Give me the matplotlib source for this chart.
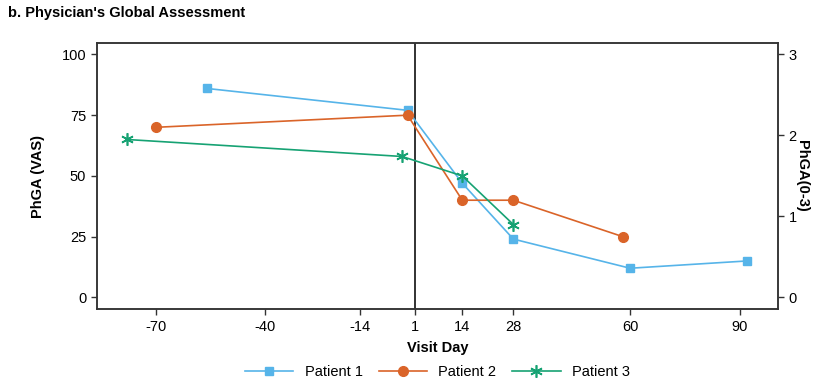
import matplotlib
matplotlib.use("Agg")
import matplotlib.pyplot as plt

plt.rcParams['font.family'] = ['Liberation Sans', 'DejaVu Sans']
plt.rcParams['font.size'] = 10.5
plt.rcParams['axes.unicode_minus'] = False

# data
p1_day = [-56, -1, 14, 28, 60, 92]
p1_vas = [86, 77, 47, 24, 12, 15]
p2_day = [-70, -1, 14, 28, 58]
p2_vas = [70, 75, 40, 40, 25]
p3_day = [-78, -2.5, 14, 28]
p3_vas = [65, 58, 50, 30]

xticks = [-70, -40, -14, 1, 14, 28, 60, 90]
yticks_left = [0, 25, 50, 75, 100]
yticks_right = [0, 1, 2, 3]

fig = plt.figure(figsize=(8.22, 3.82), dpi=100)
ax = fig.add_axes([0.1176, 0.1903, 0.8292, 0.6971])

ax.plot(p1_day, p1_vas, color='#56B4E9', marker='s', markersize=6,
        linewidth=1.2, label='Patient 1')
ax.plot(p2_day, p2_vas, color='#DA6429', marker='o', markersize=7,
        linewidth=1.2, label='Patient 2')
ax.plot(p3_day, p3_vas, color='#16A273', marker=(6, 2, 0), markersize=9,
        markeredgewidth=1.2, linewidth=1.2, label='Patient 3')

ax.axvline(1, color='#222222', linewidth=1.3, zorder=0)

ax.set_xlim(-86.2, 100.6)
ax.set_ylim(-4.9, 104.7)
ax.set_xticks(xticks)
ax.set_yticks(yticks_left)
ax.set_xlabel("Visit Day", fontweight='bold', labelpad=5)
ax.set_ylabel("PhGA (VAS)", fontweight='bold', labelpad=12)

ax2 = ax.twinx()
ax2.set_ylim(-4.9 / 100 * 3, 104.7 / 100 * 3)
ax2.set_yticks(yticks_right)
ax2.set_ylabel("PhGA(0-3)", fontweight='bold', rotation=270, labelpad=9)

for a in (ax, ax2):
    a.tick_params(direction='out', length=4, width=1, color='#333333')
    for s in a.spines.values():
        s.set_color('#333333')
        s.set_linewidth(1.1)

fig.text(0.01, 0.966, "b. Physician's Global Assessment", fontweight='bold',
         fontsize=10.5, va='center', ha='left')

ax.legend(loc='center', bbox_to_anchor=(0.5, -0.235), ncol=3, frameon=False,
          handlelength=3.3, handletextpad=0.8, columnspacing=1.1)

fig.savefig("out.png", dpi=100)
